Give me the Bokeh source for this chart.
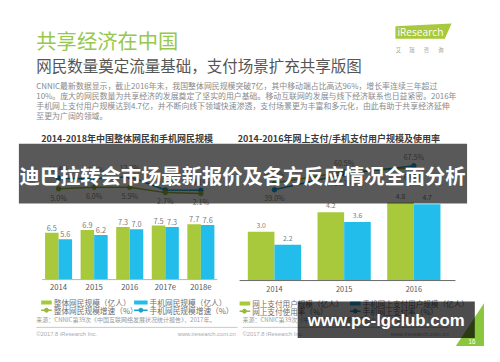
from bokeh.plotting import figure
from bokeh.models import Range1d, ColumnDataSource
from bokeh.transform import dodge
from bokeh.core.properties import value
from bokeh.embed import file_html
from bokeh.resources import INLINE

# ---------------- data ----------------
header_title = "共享经济在中国"
header_subtitle = "网民数量奠定流量基础，支付场景扩充共享版图"
paragraph = [
    "CNNIC最新数据显示，截止2016年末，我国整体网民规模突破7亿，其中移动端占比高达96%，增长率连续三年超过",
    "10%。庞大的网民数量为共享经济的发展奠定了坚实的用户基础。移动互联网的发展与线下经济联系也日益紧密。2016年",
    "手机网上支付用户规模达到4.7亿，并不断向线下领域快速渗透，支付场景更为丰富和多元化，由此有助于共享经济延伸",
    "至更为广阔的领域。",
]
banner_text = "迪巴拉转会市场最新报价及各方反应情况全面分析"
watermark_text = "www.pc-lgclub.com"
logo_text = "iResearch"
logo_sub = ["艾", "瑞", "咨", "询"]

net_title = "2014-2018年中国整体网民和手机网民规模"
net_years = ["2014", "2015", "2016", "2017e", "2018e"]
net_total = [6.5, 6.9, 7.3, 7.5, 7.7]
net_mobile = [5.6, 6.2, 7.0, 7.3, 7.6]
net_total_growth = [5.0, 6.0, 5.9, 2.7, 2.1]
net_mobile_growth = [11.4, 11.1, 12.2, 4.3, 4.1]
net_legend = ["整体网民规模（亿人）", "手机网民规模（亿人）",
              "整体网民规模增速（%）", "手机网民规模增速（%）"]

pay_title = "2014-2016年网上支付/手机支付用户规模及使用率"
pay_years = ["2014", "2015", "2016"]
pay_online = [3.0, 4.2, 4.8]
pay_mobile = [2.2, 3.6, 4.7]
pay_online_rate = [46.9, 60.5, 64.9]
pay_mobile_rate = [39.0, 57.7, 67.5]
pay_legend = ["网上支付用户规模（亿人）", "手机网上支付用户规模（亿人）",
              "网上支付使用率（%）", "手机网上支付率（%）"]

source_text = "来源：CNNIC第39次《中国互联网络发展状况统计报告》，2017年。"
copyright_text = "©2017.8 iResearch Inc."
url_text = "www.iresearch.com.cn"
page_no = "16"

# ---------------- style ----------------
W, H = 484, 346
S = W / 500.0
CJK = value("Noto Sans CJK SC")
LAT = value("Liberation Sans")
GREEN = "#a7c93b"
BLUE = "#22bdea"
OLIVE = "#98b93a"
TEAL = "#1aa2d2"


def fs(px):
    return f"{px * S:.1f}px"


p = figure(width=W, height=H, x_range=Range1d(0, 500), y_range=Range1d(362, 0),
           x_axis_type=None, y_axis_type=None, output_backend="svg",
           toolbar_location=None, min_border=0)
p.title.visible = False
p.outline_line_color = None
p.background_fill_color = "white"
p.border_fill_color = "white"

# scales placing each chart inside the slide
p.extra_x_ranges = {
    "lx": Range1d(start=(0 - 60) / 36.75, end=(500 - 60) / 36.75),
    "rx": Range1d(start=(0 - 283) / 72.0, end=(500 - 283) / 72.0),
}
p.extra_y_ranges = {
    "ly": Range1d(start=(292 - 362) / 7.53, end=292 / 7.53),
    "lg": Range1d(start=5 - (362 - 197) / 1.74, end=5 + 197 / 1.74),
    "ry": Range1d(start=(293 - 362) / 17.0, end=293 / 17.0),
    "rr": Range1d(start=39 - (362 - 198) / 0.88, end=39 + 198 / 0.88),
}

# ---------------- header ----------------
p.text(x=[37], y=[41], text=[header_title], text_font=CJK, text_font_size=fs(21),
       text_color="#96c84c", text_baseline="middle")
p.text(x=[37], y=[68], text=[header_subtitle], text_font=CJK, text_font_size=fs(16),
       text_color="#555555", text_baseline="middle")
p.text(x=[37] * 4, y=[89, 99.5, 110, 120.5], text=paragraph, text_font=CJK,
       text_font_size=fs(8.2), text_color="#8a8a8a", text_baseline="middle")

# logo
p.patch(x=[408, 466, 459, 408], y=[27, 24, 40, 40], fill_color=GREEN, line_color=None)
p.text(x=[410], y=[33], text=[logo_text], text_font=value("Open Sans"),
       text_font_size=fs(10.5), text_color="white", text_baseline="middle")
p.text(x=[411, 425, 440, 455], y=[52] * 4, text=logo_sub, text_font=CJK,
       text_font_size=fs(5.5), text_color="#999999", text_baseline="middle",
       text_align="center")

# chart titles
p.text(x=[42], y=[144], text=[net_title], text_font=CJK, text_font_size=fs(9.3),
       text_font_style="bold", text_color="#3a3a3a", text_baseline="middle")
p.text(x=[245], y=[144], text=[pay_title], text_font=CJK, text_font_size=fs(9.3),
       text_font_style="bold", text_color="#3a3a3a", text_baseline="middle")

# ---------------- left chart ----------------
def lbl_offsets(a, b, d):
    return [-d if x >= y else d for x, y in zip(a, b)]


net = ColumnDataSource(dict(
    i=list(range(len(net_years))), year=net_years,
    total=net_total, mobile=net_mobile,
    total_lbl=[f"{v:.1f}" for v in net_total],
    mobile_lbl=[f"{v:.1f}" for v in net_mobile],
    tg=net_total_growth, mg=net_mobile_growth,
    tg_lbl=[f"{v:.1f}%" for v in net_total_growth],
    mg_lbl=[f"{v:.1f}%" for v in net_mobile_growth],
    tg_off=lbl_offsets(net_total_growth, net_mobile_growth, 9 * S),
    mg_off=lbl_offsets(net_mobile_growth, net_total_growth, 9 * S),
))
LR = dict(x_range_name="lx", y_range_name="ly", source=net)
p.vbar(x=dodge("i", -0.19), top="total", bottom=0, width=0.38,
       fill_color=GREEN, line_color=None, **LR)
p.vbar(x=dodge("i", 0.19), top="mobile", bottom=0, width=0.38,
       fill_color=BLUE, line_color=None, **LR)
p.text(x=dodge("i", -0.19), y="total", text="total_lbl", text_align="center",
       text_baseline="bottom", y_offset=-2, text_font=CJK, text_font_size=fs(7.5),
       text_color="#7a7a7a", **LR)
p.text(x=dodge("i", 0.19), y="mobile", text="mobile_lbl", text_align="center",
       text_baseline="bottom", y_offset=-2, text_font=CJK, text_font_size=fs(7.5),
       text_color="#7a7a7a", **LR)
p.segment(x0=[43], y0=[292], x1=[224], y1=[292], line_color="#b5b5b5", line_width=1)
p.text(x="i", y=0, text="year", text_align="center", text_baseline="top",
       y_offset=4, text_font=CJK, text_font_size=fs(8), text_color="#555555", **LR)

LG = dict(x_range_name="lx", y_range_name="lg", source=net)
p.line(x="i", y="mg", line_color=TEAL, line_width=1.5, **LG)
p.scatter(x="i", y="mg", size=4.5, fill_color=TEAL, line_color=TEAL, **LG)
p.line(x="i", y="tg", line_color=OLIVE, line_width=1.5, **LG)
p.scatter(x="i", y="tg", size=4.5, fill_color=OLIVE, line_color=OLIVE, **LG)
p.text(x="i", y="tg", text="tg_lbl", y_offset="tg_off", text_align="center",
       text_baseline="middle", text_font=CJK, text_font_size=fs(7.3),
       text_color="#8a8a8a", **LG)
p.text(x="i", y="mg", text="mg_lbl", y_offset="mg_off", text_align="center",
       text_baseline="middle", text_font=CJK, text_font_size=fs(7.3),
       text_color="#8a8a8a", **LG)

# left legend
p.quad(left=[42], right=[53], top=[314], bottom=[318], fill_color=GREEN, line_color=None)
p.quad(left=[138], right=[152], top=[314], bottom=[318], fill_color=BLUE, line_color=None)
p.segment(x0=[42, 138], y0=[324, 324], x1=[53, 152], y1=[324, 324],
          line_color=[OLIVE, TEAL], line_width=1.5)
p.scatter(x=[47.5, 145], y=[324, 324], size=4, fill_color=[OLIVE, TEAL],
          line_color=[OLIVE, TEAL])
p.text(x=[55, 154, 55, 154], y=[316, 316, 324, 324], text=net_legend, text_font=CJK,
       text_font_size=fs(8), text_color="#6e6e6e", text_baseline="middle")

# ---------------- right chart ----------------
pay = ColumnDataSource(dict(
    i=list(range(len(pay_years))), year=pay_years,
    online=pay_online, mobile=pay_mobile,
    online_lbl=[f"{v:.1f}" for v in pay_online],
    mobile_lbl=[f"{v:.1f}" for v in pay_mobile],
    orate=pay_online_rate, mrate=pay_mobile_rate,
    orate_lbl=[f"{v:.1f}%" for v in pay_online_rate],
    mrate_lbl=[f"{v:.1f}%" for v in pay_mobile_rate],
    o_off=lbl_offsets(pay_online_rate, pay_mobile_rate, 9 * S),
    m_off=lbl_offsets(pay_mobile_rate, pay_online_rate, 9 * S),
))
RR = dict(x_range_name="rx", y_range_name="ry", source=pay)
p.vbar(x=dodge("i", -0.191), top="online", bottom=0, width=0.382,
       fill_color=GREEN, line_color=None, **RR)
p.vbar(x=dodge("i", 0.191), top="mobile", bottom=0, width=0.382,
       fill_color=BLUE, line_color=None, **RR)
p.text(x=dodge("i", -0.191), y="online", text="online_lbl", text_align="center",
       text_baseline="bottom", y_offset=-4, text_font=CJK, text_font_size=fs(7),
       text_color="#7a7a7a", **RR)
p.text(x=dodge("i", 0.191), y="mobile", text="mobile_lbl", text_align="center",
       text_baseline="bottom", y_offset=-4, text_font=CJK, text_font_size=fs(7),
       text_color="#7a7a7a", **RR)
p.segment(x0=[247], y0=[293], x1=[470], y1=[293], line_color="#6a6a6a", line_width=1)
p.text(x="i", y=0, text="year", text_align="center", text_baseline="top",
       y_offset=5, text_font=CJK, text_font_size=fs(7.5), text_color="#555555", **RR)

RG = dict(x_range_name="rx", y_range_name="rr", source=pay)
p.line(x="i", y="orate", line_color=OLIVE, line_width=1.5, **RG)
p.scatter(x="i", y="orate", size=4.5, fill_color=OLIVE, line_color=OLIVE, **RG)
p.line(x="i", y="mrate", line_color=TEAL, line_width=1.5, **RG)
p.scatter(x="i", y="mrate", size=4.5, fill_color=TEAL, line_color=TEAL, **RG)
p.text(x="i", y="orate", text="orate_lbl", y_offset="o_off", text_align="center",
       text_baseline="middle", text_font=CJK, text_font_size=fs(7.3),
       text_color="#8a8a8a", **RG)
p.text(x="i", y="mrate", text="mrate_lbl", y_offset="m_off", text_align="center",
       text_baseline="middle", text_font=CJK, text_font_size=fs(7.3),
       text_color="#8a8a8a", **RG)

# right legend
p.quad(left=[247], right=[258], top=[315], bottom=[319], fill_color=GREEN, line_color=None)
p.quad(left=[361], right=[372], top=[315], bottom=[319], fill_color=BLUE, line_color=None)
p.segment(x0=[247, 361], y0=[325, 325], x1=[258, 372], y1=[325, 325],
          line_color=[OLIVE, TEAL], line_width=1.5)
p.scatter(x=[252, 366.5], y=[325, 325], size=4, fill_color=[OLIVE, TEAL],
          line_color=[OLIVE, TEAL])
p.text(x=[260, 374, 260, 374], y=[317, 317, 325, 325], text=pay_legend, text_font=CJK,
       text_font_size=fs(7.8), text_color="#6e6e6e", text_baseline="middle")

# ---------------- footers ----------------
p.text(x=[37, 250], y=[333.5, 333.5], text=[source_text] * 2, text_font=CJK,
       text_font_size=fs(6.2), text_color="#9a9a9a", text_baseline="middle")
p.segment(x0=[37, 250], y0=[342, 342], x1=[245, 463], y1=[342, 342],
          line_color="#bdbdbd", line_width=0.8)
p.text(x=[37, 250], y=[348.5, 348.5], text=[copyright_text] * 2, text_font=LAT,
       text_font_size=fs(6), text_color="#ababab", text_baseline="middle")
p.text(x=[243, 463], y=[348.5, 348.5], text=[url_text] * 2, text_font=LAT,
       text_font_size=fs(6), text_color="#ababab", text_baseline="middle",
       text_align="right")

# ---------------- overlays ----------------
p.quad(left=[19], right=[482], top=[150], bottom=[212.5], fill_color="black",
       fill_alpha=0.65, line_color=None)
p.text(x=[250], y=[182.5], text=[banner_text], text_font=CJK, text_font_size=fs(21),
       text_font_style="bold", text_color="white", text_align="center",
       text_baseline="middle")

p.patch(x=[470, 500, 500], y=[362, 316, 362], fill_color="#8cc63e", line_color=None)
p.quad(left=[307], right=[490], top=[315], bottom=[353], fill_color="black",
       fill_alpha=0.7, line_color=None)
p.text(x=[398.5], y=[334.5], text=[watermark_text], text_font=LAT,
       text_font_size=fs(17.4), text_font_style="bold", text_color="white",
       text_align="center", text_baseline="middle")
p.text(x=[487], y=[356.5], text=[page_no], text_font=LAT, text_font_size=fs(6.5),
       text_color="white", text_align="center", text_baseline="middle")

with open("out.html", "w", encoding="utf-8") as f:
    f.write(file_html(p, INLINE))
